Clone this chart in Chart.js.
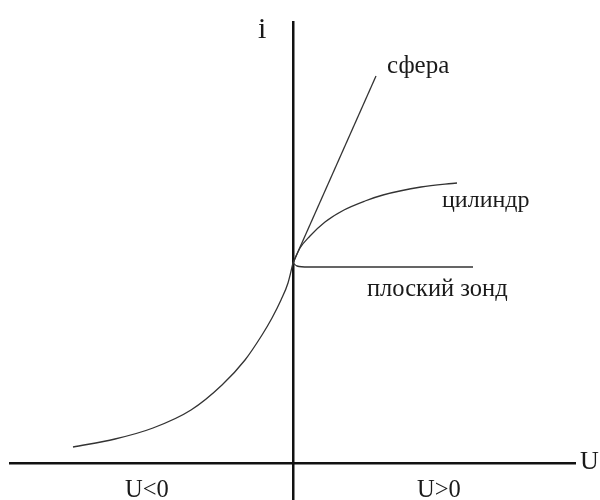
<!DOCTYPE html>
<html>
<head>
<meta charset="utf-8">
<script src="https://cdn.jsdelivr.net/npm/chart.js@4"></script>
<style>
    body { margin: 0; background: #fff; }
    #wrap { width: 600px; height: 500px; }
</style>
</head>
<body>
<div id="wrap"><canvas id="myChart"></canvas></div>
<script>
// probe current i versus probe voltage U (arbitrary units)
const negU = [-22.0, -17.8, -14.0, -10.2, -7.1, -4.8, -3.1, -2.1, -1.2, -0.5, 0];
const negI = [1.6, 2.4, 3.5, 5.3, 7.8, 10.3, 12.8, 14.5, 16.3, 18.0, 20.0];

const sphereU = [0, 8.3];
const sphereI = [20.0, 38.7];

const cylU = [0, 0.7, 1.7, 3.2, 5.1, 7.2, 9.0, 12.8, 16.4];
const cylI = [20.0, 21.5, 22.7, 24.1, 25.3, 26.2, 26.8, 27.6, 28.0];

const flatU = [0, 0.4, 1.5, 18.0];
const flatI = [20.0, 19.7, 19.6, 19.6];

const labelTexts = ['i', 'сфера', 'цилиндр', 'плоский зонд', 'U', 'U<0', 'U>0'];

function toPoints(xs, ys) {
    return xs.map(function(x, k) { return { x: x, y: ys[k] }; });
}

const lineColor = '#333';

const dataset = {
    datasets: [
        { data: toPoints(negU, negI), cubicInterpolationMode: 'monotone' },
        { data: toPoints(sphereU, sphereI), tension: 0 },
        { data: toPoints(cylU, cylI), cubicInterpolationMode: 'monotone' },
        { data: toPoints(flatU, flatI), cubicInterpolationMode: 'monotone' }
    ].map(function(ds) {
        return Object.assign({
            showLine: true,
            borderColor: lineColor,
            borderWidth: 1.3,
            pointRadius: 0,
            fill: false
        }, ds);
    })
};

// where each label sits, in data units (left edge, baseline)
const labelPlugin = {
    id: 'probeLabels',
    afterDraw: function(chart, args, opts) {
        const ctx = chart.ctx;
        const xs = chart.scales.x, ys = chart.scales.y;
        ctx.save();
        ctx.fillStyle = '#1a1a1a';
        ctx.textBaseline = 'alphabetic';
        ctx.textAlign = 'left';
        opts.items.forEach(function(it, k) {
            ctx.font = it.size + 'px "Liberation Serif", serif';
            ctx.fillText(labelTexts[k], xs.getPixelForValue(it.x), ys.getPixelForValue(it.y));
        });
        ctx.restore();
    }
};

const config = {
    type: 'scatter',
    data: dataset,
    options: {
        responsive: true,
        maintainAspectRatio: false,
        animation: false,
        layout: {
            padding: { left: 10, right: 25, top: 22, bottom: 0 }
        },
        plugins: {
            legend: { display: false },
            tooltip: { enabled: false },
            probeLabels: {
                items: [
                    { x: -3.5, y: 42.5, size: 30 },
                    { x: 9.4, y: 39.0, size: 25 },
                    { x: 14.9, y: 25.6, size: 24 },
                    { x: 7.4, y: 16.7, size: 24.5 },
                    { x: 28.7, y: -0.6, size: 26 },
                    { x: -16.8, y: -3.4, size: 24.5 },
                    { x: 12.4, y: -3.4, size: 24.5 }
                ]
            }
        },
        scales: {
            x: {
                type: 'linear',
                min: -28.3,
                max: 28.2,
                position: { y: 0 },
                grid: { display: false, drawTicks: false },
                ticks: { display: false },
                border: { display: true, color: '#111', width: 2.5 }
            },
            y: {
                type: 'linear',
                min: -3.7,
                max: 44.1,
                position: { x: 0 },
                grid: { display: false, drawTicks: false },
                ticks: { display: false },
                border: { display: true, color: '#111', width: 2.5 }
            }
        }
    },
    plugins: [labelPlugin]
};

new Chart(document.getElementById('myChart').getContext('2d'), config);
</script>
</body>
</html>
